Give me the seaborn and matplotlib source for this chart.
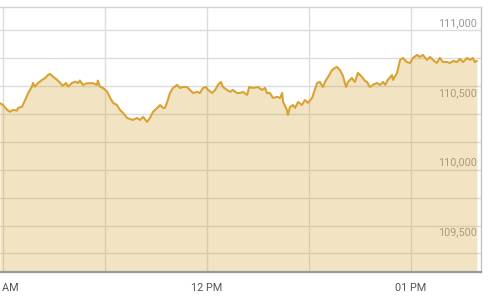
import matplotlib
matplotlib.use("Agg")
import matplotlib.pyplot as plt
import seaborn as sns
import pandas as pd
from matplotlib.ticker import MultipleLocator

# minutes after 11:00 AM
minutes = [-0.9, 0.0, 1.2, 2.1, 2.9, 4.1, 4.4, 5.6, 6.5, 7.4, 8.5, 8.8, 9.4, 10.3, 11.5, 12.4, 13.2, 13.8,
           14.7, 15.9, 16.8, 17.6, 18.5, 19.1, 20.3, 21.2, 22.1, 22.6, 23.5, 24.7, 25.6, 26.5, 27.6, 27.9,
           28.5, 29.4, 30.6, 31.5, 32.4, 33.5, 34.4, 35.3, 36.5, 37.4, 38.2, 39.4, 40.3, 41.2, 42.4, 43.2,
           44.1, 45.3, 46.2, 47.1, 47.6, 48.2, 49.1, 50.0, 51.2, 52.1, 52.9, 54.1, 55.0, 55.9, 57.1, 57.9,
           58.8, 59.7, 60.3, 61.5, 62.4, 63.2, 64.1, 64.7, 65.9, 66.8, 67.6, 68.8, 69.7, 70.6, 71.8, 72.4,
           73.5, 75.0, 76.2, 77.1, 77.6, 78.5, 79.4, 80.6, 81.5, 82.1, 82.4, 83.5, 83.8, 84.4, 85.3, 85.9,
           86.8, 87.9, 88.8, 89.7, 90.9, 91.5, 92.4, 93.2, 94.1, 94.7, 95.6, 96.8, 97.6, 98.2, 99.1, 100.0,
           100.9, 101.5, 102.6, 103.5, 104.4, 105.6, 106.5, 107.1, 107.9, 108.8, 110.0, 110.9, 111.8, 112.4,
           113.2, 114.4, 114.7, 115.9, 116.8, 117.6, 118.8, 119.7, 120.6, 121.8, 122.6, 123.5, 124.7, 125.6,
           126.5, 127.6, 128.5, 129.4, 130.6, 131.5, 132.4, 133.5, 134.4, 135.3, 136.5, 137.4, 138.2, 138.8,
           139.4]

prices = [110418, 110405, 110370, 110357, 110370, 110365, 110384, 110393, 110441, 110491, 110537, 110563,
          110537, 110563, 110585, 110599, 110620, 110628, 110608, 110585, 110563, 110542, 110563, 110537,
          110563, 110572, 110563, 110580, 110549, 110561, 110561, 110561, 110549, 110580, 110537, 110527,
          110501, 110456, 110420, 110405, 110370, 110348, 110312, 110305, 110298, 110312, 110298, 110320,
          110284, 110312, 110355, 110384, 110405, 110384, 110384, 110420, 110491, 110527, 110549, 110527,
          110534, 110534, 110513, 110491, 110499, 110491, 110527, 110534, 110513, 110491, 110513, 110549,
          110570, 110534, 110513, 110499, 110513, 110491, 110491, 110499, 110477, 110534, 110527, 110534,
          110513, 110527, 110491, 110491, 110456, 110463, 110456, 110491, 110427, 110370, 110334, 110391,
          110405, 110384, 110427, 110405, 110441, 110420, 110456, 110499, 110563, 110570, 110534, 110570,
          110606, 110656, 110670, 110678, 110656, 110613, 110534, 110570, 110599, 110570, 110635, 110606,
          110577, 110570, 110534, 110549, 110563, 110549, 110570, 110549, 110585, 110620, 110585, 110635,
          110728, 110742, 110713, 110706, 110742, 110764, 110749, 110764, 110728, 110749, 110728, 110706,
          110742, 110713, 110713, 110706, 110721, 110713, 110735, 110713, 110742, 110728, 110742, 110713,
          110721]

xtick_minutes = [0, 60, 120]
xtick_labels = ["11 AM", "12 PM", "01 PM"]
ytick_values = [109500, 110000, 110500, 111000]
ytick_labels = ["109,500", "110,000", "110,500", "111,000"]

sns.set_theme(style="white")
plt.rcParams["font.family"] = ["Roboto", "DejaVu Sans"]

line_color = "#D9A334"
fill_color = "#D4A437"

fig = plt.figure(figsize=(5, 3), dpi=100)
ax = fig.add_axes([0, 28 / 300, 481 / 500, 265 / 300])

y_min, y_max = 109209, 111107
df = pd.DataFrame({"minute": minutes, "price": prices})
sns.lineplot(data=df, x="minute", y="price", ax=ax, color=line_color, linewidth=1.5, zorder=3)
ax.fill_between(df["minute"], df["price"], y_min, color=fill_color, alpha=0.3, linewidth=0, zorder=2)

ax.set_xlim(-0.9, 140.6)
ax.set_ylim(y_min, y_max)
ax.set_xlabel("")
ax.set_ylabel("")

ax.set_xticks(xtick_minutes, xtick_labels)
ax.xaxis.set_minor_locator(MultipleLocator(30))
ax.set_yticks(ytick_values, ytick_labels)
ax.yaxis.set_minor_locator(MultipleLocator(200, offset=142))

ax.set_axisbelow(True)
ax.grid(False)
ax.grid(True, which="both", axis="x", color="#dcdcdc", linewidth=1.0)
ax.grid(True, which="minor", axis="y", color="#dcdcdc", linewidth=1.0)

ax.yaxis.tick_right()
ax.tick_params(axis="y", which="both", length=0, pad=-3, labelsize=7.8, labelcolor="#999999",
               labelright=True, labelleft=False)
plt.setp(ax.get_yticklabels(), ha="right")
ax.tick_params(axis="x", which="both", length=0, pad=8, labelsize=7.8, labelcolor="#555555")

ax.spines["left"].set_visible(False)
ax.spines["top"].set_color("#d4d4d4")
ax.spines["top"].set_linewidth(1.0)
ax.spines["right"].set_color("#c4c4c4")
ax.spines["right"].set_linewidth(1.0)
ax.spines["bottom"].set_color("#999999")
ax.spines["bottom"].set_linewidth(1.6)

fig.savefig("out.png", dpi=100)
